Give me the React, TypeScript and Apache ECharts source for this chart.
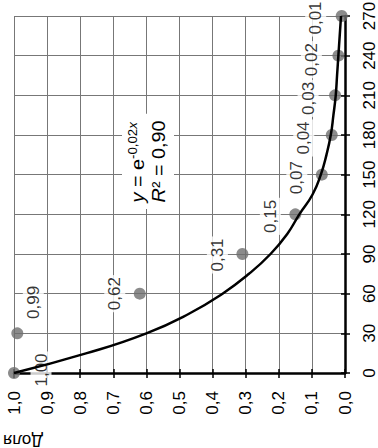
import React, { useEffect, useRef } from 'react';
import * as echarts from 'echarts';

// Observed data: time (x) and share (Доля)
const times = [0, 30, 60, 90, 120, 150, 180, 210, 240, 270];
const shares = [1.0, 0.99, 0.62, 0.31, 0.15, 0.07, 0.04, 0.03, 0.02, 0.01];
const shareLabels = ['1,00', '0,99', '0,62', '0,31', '0,15', '0,07', '0,04', '0,03', '0,02', '0,01'];

// Trend line
const trendTimes = [0, 15, 30, 45, 60, 75, 90, 105, 120, 135, 150, 165, 180, 195, 210, 225, 240, 255, 270];
const trendShares = [1.0, 0.78, 0.6, 0.47, 0.37, 0.29, 0.225, 0.175, 0.138, 0.098, 0.073, 0.056, 0.043, 0.035, 0.028, 0.024, 0.02, 0.016, 0.012];

// Tick labels
const shareTickLabels = ['0,0', '0,1', '0,2', '0,3', '0,4', '0,5', '0,6', '0,7', '0,8', '0,9', '1,0'];
const timeTickLabels = ['0', '30', '60', '90', '120', '150', '180', '210', '240', '270'];

const axisTitle = 'Доля';
const equationLine1 = '{i|y} = e{s|-0,02}{si|x}';
const equationLine2 = '{i|R}² = 0,90';

// label offsets (layout only)
const labelOffsets: number[][] = [
  [3, 27], [31, 16], [0, -25], [-1, -25], [-2, -25], [-3, -25], [-3, -28], [-3, -27], [-4, -27], [-2, -26],
];

const FONT = 'Liberation Sans, Arial, sans-serif';

export default function App() {
  const ref = useRef<HTMLDivElement>(null);
  useEffect(() => {
    const chart = echarts.init(ref.current!, null, { renderer: 'svg' });
    const axisLineStyle = { color: '#000', width: 2.5 };
    const tickStyle = { color: '#000', width: 1.5 };
    const gridLine = { show: true, lineStyle: { color: '#777', width: 1 } };
    const option: any = {
      animation: false,
      backgroundColor: '#fff',
      grid: { left: 14, right: 33, top: 16, bottom: 75, containLabel: false, outerBoundsMode: 'none' },
      xAxis: [
        {
          type: 'value', min: 0, max: 1, interval: 0.1, inverse: true, position: 'bottom',
          axisLine: { show: true, onZero: false, lineStyle: axisLineStyle },
          axisTick: { show: true, length: 5, lineStyle: tickStyle },
          axisLabel: {
            rotate: 90, margin: 18, fontSize: 17, color: '#000', fontFamily: FONT,
            formatter: (v: number) => shareTickLabels[Math.round(v * 10)],
          },
          splitLine: gridLine,
        },
        {
          type: 'value', min: 0, max: 1, interval: 0.1, inverse: true, position: 'bottom',
          axisLine: { show: false, onZero: false },
          axisTick: { show: true, inside: true, length: 4, lineStyle: tickStyle },
          axisLabel: { show: false },
          splitLine: { show: false },
        },
      ],
      yAxis: [
        {
          type: 'value', min: 0, max: 270, interval: 30, position: 'right',
          axisLine: { show: true, onZero: false, lineStyle: axisLineStyle },
          axisTick: { show: true, length: 5, lineStyle: tickStyle },
          axisLabel: {
            rotate: 90, margin: 16, fontSize: 17, color: '#000', fontFamily: FONT,
            formatter: (v: number) => timeTickLabels[Math.round(v / 30)],
          },
          splitLine: gridLine,
        },
        {
          type: 'value', min: 0, max: 270, interval: 30, position: 'right',
          axisLine: { show: false, onZero: false },
          axisTick: { show: true, inside: true, length: 4, lineStyle: tickStyle },
          axisLabel: { show: false },
          splitLine: { show: false },
        },
      ],
      series: [
        {
          type: 'scatter',
          xAxisIndex: 0, yAxisIndex: 0,
          z: 2,
          symbolSize: 12,
          itemStyle: { color: '#6e6e6e' },
          data: times.map((t, i) => ({ value: [shares[i], t], label: { offset: labelOffsets[i] } })),
          label: {
            show: true, position: 'inside', rotate: 90,
            formatter: (p: any) => shareLabels[p.dataIndex],
            fontSize: 17, color: '#000', fontFamily: FONT,
            backgroundColor: '#fff', padding: [2, 2],
          },
        },
        {
          type: 'line',
          xAxisIndex: 0, yAxisIndex: 0,
          z: 5,
          smooth: 0.5,
          showSymbol: false,
          lineStyle: { color: '#000', width: 2.5 },
          data: trendTimes.map((t, i) => [trendShares[i], t]),
        },
      ],
      graphic: [
        {
          type: 'text', x: 148, y: 209, rotation: Math.PI / 2, scaleX: 1.1, z: 10,
          style: {
            text: equationLine1 + '\n' + equationLine2,
            align: 'left', verticalAlign: 'middle',
            backgroundColor: '#fff', padding: [5, 6],
            fill: '#000', font: `18px ${FONT}`,
            rich: {
              i: { fontSize: 18, fontStyle: 'italic', fontFamily: FONT, lineHeight: 21 },
              s: { fontSize: 12, fontFamily: FONT, verticalAlign: 'top' },
              si: { fontSize: 12, fontStyle: 'italic', fontFamily: FONT, verticalAlign: 'top' },
            },
            lineHeight: 21,
          },
        },
        {
          type: 'text', x: 23, y: 440, rotation: Math.PI, z: 10,
          style: {
            text: axisTitle, align: 'center', verticalAlign: 'middle',
            fill: '#000', font: `17px ${FONT}`,
          },
        },
      ],
    };
    chart.setOption(option);
    return () => chart.dispose();
  }, []);
  return <div ref={ref} style={{ position: 'fixed', left: 0, top: 0, width: 378, height: 448 }} />;
}
